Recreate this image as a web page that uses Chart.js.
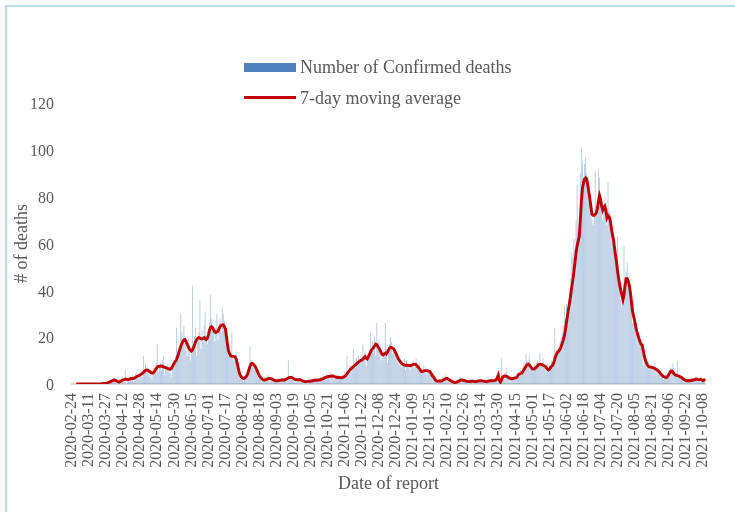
<!DOCTYPE html>
<html>
<head>
<meta charset="utf-8">
<script src="https://cdn.jsdelivr.net/npm/chart.js@4.4.1/dist/chart.umd.min.js"></script>
<style>
  html, body { margin: 0; padding: 0; background: #fff; overflow: hidden; }
  #wrap { position: relative; width: 735px; height: 512px; overflow: hidden; }
  #chart { position: absolute; left: 0; top: 0; }
  #frame { position: absolute; left: 5px; top: 5px; width: 780px; height: 560px; border: 2px solid #b5dce7; box-sizing: border-box; pointer-events: none; }
  .lg { position: absolute; font: 18px "Liberation Serif", "Times New Roman", serif; color: #595959; line-height: 20px; white-space: nowrap; }
  .sw { position: absolute; }
</style>
</head>
<body>
<div id="wrap">
  <canvas id="chart" width="735" height="512"></canvas>
  <div class="sw" style="left:244px;top:63px;width:52px;height:9px;background:#4f81bd"></div>
  <div class="lg" id="lgBars" style="left:300px;top:57px"></div>
  <div class="sw" style="left:244px;top:96px;width:52px;height:3px;background:#c00000"></div>
  <div class="lg" id="lgLine" style="left:300px;top:88px"></div>
  <div id="frame"></div>
</div>
<script>
const START_DATE = "2020-02-24";
const BAR_LABEL = "Number of Confirmed deaths";
const LINE_LABEL = "7-day moving average";

// daily confirmed deaths, one row per 16 days starting 2020-02-24
const dailyDeaths = [
  0,0,0,0,0,0,0,0,0,0,0,0,0,0,0,0,
  0,0,0,0,0,0,0,0,0,0,0,0,1,0,0,1,
  0,1,1,0,2,1,2,3,1,2,0,1,1,2,0,3,
  2,1,6,0,2,3,1,2,3,4,1,2,5,3,4,2,
  5,4,3,12,6,9,5,7,4,3,6,2,4,7,6,9,
  17,5,8,9,6,10,12,4,7,6,9,5,8,3,7,10,
  8,12,24,14,10,16,30,22,18,25,20,14,12,19,17,10,
  13,42,16,20,24,12,19,22,36,15,23,18,25,31,19,17,
  20,26,38,28,25,22,18,24,30,19,26,28,22,33,30,27,
  21,18,15,12,14,13,22,11,10,12,14,8,4,3,2,3,
  2,1,3,2,4,5,8,16,10,9,7,8,6,5,3,2,
  3,2,1,2,1,3,2,2,4,3,1,2,3,1,2,1,
  1,2,1,2,1,3,1,2,2,1,3,10,2,3,2,4,
  2,1,3,1,2,2,1,3,1,0,1,2,1,0,2,1,
  1,2,1,1,3,1,2,2,1,3,2,2,4,3,2,4,
  3,4,2,5,3,4,2,3,3,2,4,3,2,3,4,3,
  5,3,12,4,6,8,5,7,15,9,7,11,8,12,10,9,
  11,17,12,14,8,10,13,15,22,15,18,14,20,12,26,16,
  19,13,10,11,14,12,26,15,9,14,17,20,18,13,16,12,
  11,13,9,8,10,7,9,8,11,6,10,8,7,6,9,8,
  10,7,9,11,8,6,9,5,4,6,8,5,7,4,6,5,
  6,4,3,5,2,1,2,0,1,2,1,2,3,1,2,4,
  3,2,1,2,1,0,1,0,1,1,2,1,3,2,1,2,
  1,2,1,1,0,2,1,1,2,0,1,1,2,1,2,1,
  2,1,1,0,2,1,1,2,1,2,1,1,2,3,2,4,
  3,0,1,11,4,3,2,5,7,3,2,1,4,2,3,2,
  3,2,4,5,3,6,4,7,9,6,13,10,8,12,9,6,
  7,5,8,6,9,10,8,13,9,8,11,7,6,5,9,6,
  8,7,10,9,12,24,13,15,14,16,18,20,22,25,33,28,
  34,30,36,40,45,56,54,62,58,70,85,66,72,90,101,95,
  88,94,97,90,89,84,80,75,70,68,73,91,76,72,92,88,
  78,74,70,76,80,72,68,86,74,70,63,60,65,58,52,48,
  63,42,40,36,33,38,59,42,48,52,45,40,36,30,26,36,
  25,27,22,20,18,17,16,15,8,12,9,7,8,9,6,7,
  8,6,7,9,5,6,7,4,5,3,4,2,3,4,2,3,
  5,4,7,6,9,3,4,3,10,4,3,2,3,2,1,2,
  1,2,1,2,1,3,1,2,2,3,2,1,2,3,1,2,
  2,1,3
];

// 7-day moving average
const movingAvg = [
  null,null,null,null,0,0,0,0,0,0,0,0,0,0,0,0,
  0,0,0,0,0,0,0,0,0,0,0,0,0.1,0.1,0.2,0.2,
  0.3,0.4,0.6,0.8,1.0,1.2,1.4,1.6,1.7,1.5,1.2,1.0,0.9,1.0,1.3,1.6,
  1.8,1.9,2.0,2.0,1.9,1.8,2.0,2.3,2.4,2.3,2.4,2.7,3.0,3.3,3.4,3.6,
  3.9,4.2,4.6,5.0,5.4,5.8,6.0,5.9,5.6,5.2,4.9,4.7,4.7,5.2,5.9,6.6,
  7.2,7.5,7.6,7.6,7.7,7.5,7.3,7.1,7.0,6.8,6.6,6.4,6.3,6.5,7.2,8.2,
  9.0,9.7,10.2,11.5,13,14.5,16,17.2,18.2,18.8,19,18.2,17,16,15,14.5,
  14,14.5,15.5,16.8,18,19,19.5,19.8,19.6,19.3,19.2,19.5,19.8,19.4,19,19.5,
  21,23,24.2,24.5,24,23,22.2,22,22.3,22.5,23.5,24.5,25,25.2,25.2,24.5,
  23.5,20,16.5,14,12.8,12,11.8,11.8,11.8,11.6,10.8,9,6.8,4.8,3.6,3.0,
  2.6,2.4,2.5,2.9,3.5,4.5,6,7.5,8.5,8.8,8.6,8.0,7.4,6.5,5.4,4.3,
  3.4,2.8,2.3,1.9,1.7,1.7,1.9,2.1,2.3,2.4,2.4,2.2,2.0,1.8,1.5,1.4,
  1.4,1.4,1.5,1.6,1.6,1.7,1.7,1.7,1.8,2.0,2.3,2.6,2.8,2.8,2.8,2.6,
  2.3,2.0,1.9,1.8,1.8,1.8,1.8,1.6,1.4,1.2,1.0,1.0,1.0,1.1,1.1,1.2,
  1.2,1.3,1.4,1.5,1.6,1.6,1.6,1.7,1.7,1.8,2.0,2.2,2.4,2.6,2.8,3.0,
  3.1,3.2,3.3,3.3,3.4,3.4,3.2,3.0,2.9,2.8,2.8,2.8,2.7,2.7,2.8,3.0,
  3.3,3.7,4.3,5.0,5.6,6.1,6.6,7.0,7.4,7.8,8.2,8.6,9.0,9.5,9.8,10.0,
  10.2,10.6,11.2,11.7,11.0,10.7,11.5,12.5,13.5,14.5,15.0,15.6,16.3,17.0,16.8,16.0,
  15.4,14.5,13.5,12.6,12.4,12.8,13.2,12.8,13.5,14.5,15.3,15.7,15.6,15.2,14.9,14.0,
  13.0,12.0,11.0,10.2,9.5,9.0,8.6,8.3,8.1,8.0,8.0,8.0,7.9,7.8,7.9,8.1,
  8.3,8.5,8.5,8.2,7.6,7.1,6.5,5.8,5.3,5.4,5.6,5.7,5.7,5.7,5.6,5.4,
  5.3,4.5,3.6,3.1,2.5,1.8,1.3,1.2,1.2,1.3,1.3,1.3,1.5,1.8,2.1,2.4,
  2.4,2.1,1.8,1.5,1.3,1.0,0.8,0.6,0.6,0.8,1.0,1.2,1.5,1.7,1.7,1.6,
  1.5,1.3,1.2,1.1,1.0,1.0,1.1,1.2,1.2,1.1,1.0,1.0,1.1,1.2,1.3,1.4,
  1.4,1.3,1.2,1.1,1.0,1.0,1.1,1.2,1.3,1.4,1.4,1.4,1.4,1.5,1.8,2.6,
  3.8,1.5,0.8,1.8,2.8,3.2,3.4,3.4,3.3,3.0,2.7,2.4,2.2,2.2,2.4,2.5,
  2.6,2.7,3.2,4.0,4.3,4.5,4.7,5.3,6.0,6.8,7.6,8.3,8.5,8.2,7.6,7.0,
  6.5,6.3,6.5,6.9,7.3,7.8,8.3,8.5,8.5,8.3,8.0,7.7,7.6,7.0,6.4,6.0,
  6.3,7.0,7.6,8.0,9.0,10.5,12.0,13.1,13.7,14.2,14.8,16.0,17.3,18.8,20.5,23.0,
  26.3,29.3,32.3,35,38,41.5,44.5,48,52,56,59,61,63,70,78,83.5,
  86,87.5,88,87.5,85,82,79,75.5,72.5,72,72,72.5,73,75,78,80.5,
  79,76,74.3,75.5,76,74,71,72,71.5,70,67,64,62,58.5,55,52,
  48,45,42,40,38,36,38,42,45,45,44,42,39,35,31,29,
  27,24.5,22.5,21,19.5,18,17,16.7,14.5,12,10.2,9,8,7.5,7.2,7.2,
  7.1,7,6.8,6.6,6.3,6,5.6,5.2,4.6,4.1,3.6,3.2,3,2.9,2.8,3.2,
  4,4.8,5.5,5.6,5,4.3,3.8,3.8,3.6,3.5,3.3,3.0,2.8,2.4,2,1.7,
  1.5,1.4,1.4,1.5,1.4,1.5,1.6,1.7,1.8,2,2.1,2,1.8,1.9,2.1,1.8,
  1.4,1.6,2.1
];

const tickLabels = [
  "2020-02-24","2020-03-11","2020-03-27","2020-04-12","2020-04-28","2020-05-14",
  "2020-05-30","2020-06-15","2020-07-01","2020-07-17","2020-08-02","2020-08-18",
  "2020-09-03","2020-09-19","2020-10-05","2020-10-21","2020-11-06","2020-11-22",
  "2020-12-08","2020-12-24","2021-01-09","2021-01-25","2021-02-10","2021-02-26",
  "2021-03-14","2021-03-30","2021-04-15","2021-05-01","2021-05-17","2021-06-02",
  "2021-06-18","2021-07-04","2021-07-20","2021-08-05","2021-08-21","2021-09-06",
  "2021-09-22","2021-10-08"
];

const FONT = '"Liberation Serif", "Times New Roman", serif';
const TEXT = "#595959";

// one category per reported day
const t0 = Date.parse(START_DATE + "T00:00:00Z");
const days = dailyDeaths.map((_, i) => new Date(t0 + i * 86400000).toISOString().slice(0, 10));
const tickSet = new Set(tickLabels);

document.getElementById("lgBars").textContent = BAR_LABEL;
document.getElementById("lgLine").textContent = LINE_LABEL;

new Chart(document.getElementById("chart"), {
  type: "bar",
  data: {
    labels: days,
    datasets: [
      {
        type: "line",
        label: LINE_LABEL,
        data: movingAvg,
        borderColor: "#c00000",
        borderWidth: 2.9,
        pointRadius: 0,
        tension: 0,
        fill: false,
        order: 0
      },
      {
        type: "bar",
        label: BAR_LABEL,
        data: dailyDeaths,
        backgroundColor: "rgba(79,129,189,0.42)",
        borderWidth: 0,
        barPercentage: 1,
        categoryPercentage: 0.85,
        order: 1
      }
    ]
  },
  options: {
    responsive: false,
    animation: false,
    devicePixelRatio: 1,
    layout: { padding: { left: 6, right: 30, top: 103, bottom: 0 } },
    plugins: { legend: { display: false }, tooltip: { enabled: false } },
    scales: {
      x: {
        offset: false,
        grid: { display: false, drawTicks: false },
        border: { display: true, color: "#d9d9d9", width: 2 },
        ticks: {
          autoSkip: false,
          minRotation: 90,
          maxRotation: 90,
          padding: 9,
          color: TEXT,
          font: { family: FONT, size: 16 },
          callback: (v, i) => (tickSet.has(days[i]) ? days[i] : null)
        },
        title: {
          display: true,
          text: "Date of report",
          color: TEXT,
          font: { family: FONT, size: 18 },
          padding: { top: 0, bottom: 17 }
        },
        afterFit: (s) => { s.height = 512 - 384; }
      },
      y: {
        min: 0,
        max: 120,
        grid: { display: false, drawTicks: false },
        border: { display: false },
        ticks: {
          stepSize: 20,
          padding: 18,
          labelOffset: 2,
          color: TEXT,
          font: { family: FONT, size: 16 }
        },
        title: {
          display: true,
          text: "# of deaths",
          color: TEXT,
          font: { family: FONT, size: 18 },
          padding: { top: 5, bottom: 0 }
        },
        afterFit: (s) => { s.width = 66; }
      }
    }
  }
});
</script>
</body>
</html>
